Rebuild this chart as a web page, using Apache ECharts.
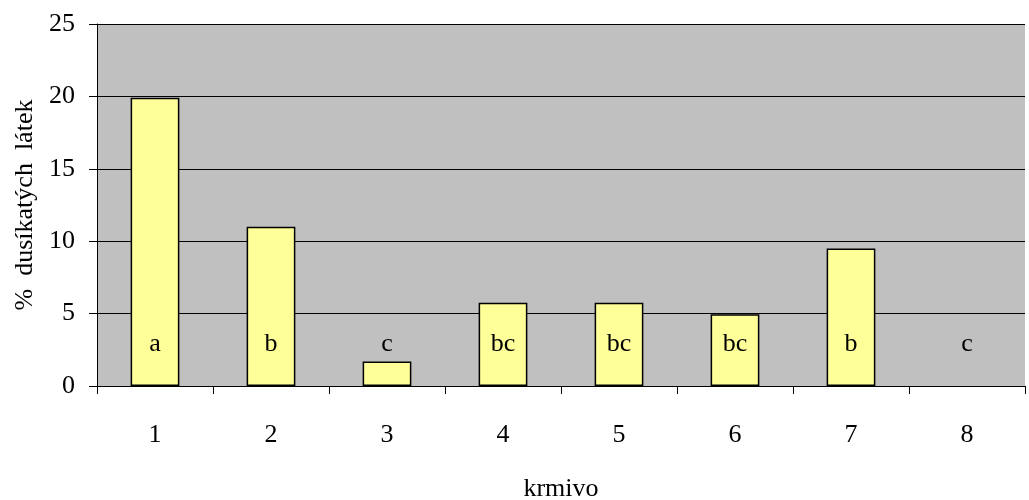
<!DOCTYPE html>
<html>
<head>
<meta charset="utf-8">
<script src="https://cdn.jsdelivr.net/npm/echarts@6/dist/echarts.min.js"></script>
<style>
  html, body { margin: 0; padding: 0; background: #ffffff; }
  #chart { width: 1029px; height: 500px; }
</style>
</head>
<body>
<div id="chart"></div>
<script>
// Krmivo categories and nitrogen content (%)
var categories = ['1', '2', '3', '4', '5', '6', '7', '8'];
var values = [19.9, 11.0, 1.7, 5.75, 5.75, 4.95, 9.5, 0];
// Significance group letters shown inside each bar
var groups = ['a', 'b', 'c', 'bc', 'bc', 'bc', 'b', 'c'];
var yTicks = [0, 5, 10, 15, 20, 25];

var serif = 'Liberation Serif';
var fs = 26;

var barData = values.map(function (v) {
  // an empty bar gets no outline
  return v === 0 ? { value: v, itemStyle: { borderWidth: 0, color: 'rgba(0,0,0,0)' } } : v;
});

var chart = echarts.init(document.getElementById('chart'), null, { renderer: 'canvas' });
chart.setOption({
  animation: false,
  grid: {
    left: 97, right: 4, top: 24, bottom: 114,
    containLabel: false,
    outerBoundsMode: 'none',
    show: true, backgroundColor: '#c0c0c0', borderWidth: 0
  },
  xAxis: {
    type: 'category',
    data: categories,
    boundaryGap: true,
    name: 'krmivo',
    nameLocation: 'middle',
    nameGap: 90,
    nameTextStyle: { fontFamily: serif, fontSize: fs, color: '#000' },
    axisLine: { show: true, lineStyle: { color: '#000', width: 1 } },
    axisTick: { show: true, alignWithLabel: false, length: 8, lineStyle: { color: '#000' } },
    axisLabel: { fontFamily: serif, fontSize: fs, color: '#000', margin: 36 },
    splitLine: { show: false }
  },
  yAxis: {
    type: 'value',
    min: yTicks[0],
    max: yTicks[yTicks.length - 1],
    interval: 5,
    name: '%  dusíkatých  látek',
    nameLocation: 'middle',
    nameGap: 58,
    nameTextStyle: { fontFamily: serif, fontSize: fs, color: '#000' },
    axisLine: { show: true, lineStyle: { color: '#000', width: 1 } },
    axisTick: { show: true, length: 8, lineStyle: { color: '#000' } },
    axisLabel: { fontFamily: serif, fontSize: fs, color: '#000', margin: 22 },
    splitLine: { show: true, lineStyle: { color: '#000', width: 1 } }
  },
  series: [{
    type: 'bar',
    data: barData,
    barWidth: '42%',
    itemStyle: { color: '#ffff99', borderColor: '#000', borderWidth: 1.5 },
    label: {
      show: true,
      position: 'insideBottom',
      distance: 29,
      fontFamily: serif,
      fontSize: fs,
      color: '#000',
      formatter: function (p) { return groups[p.dataIndex]; }
    }
  }]
});
</script>
</body>
</html>
